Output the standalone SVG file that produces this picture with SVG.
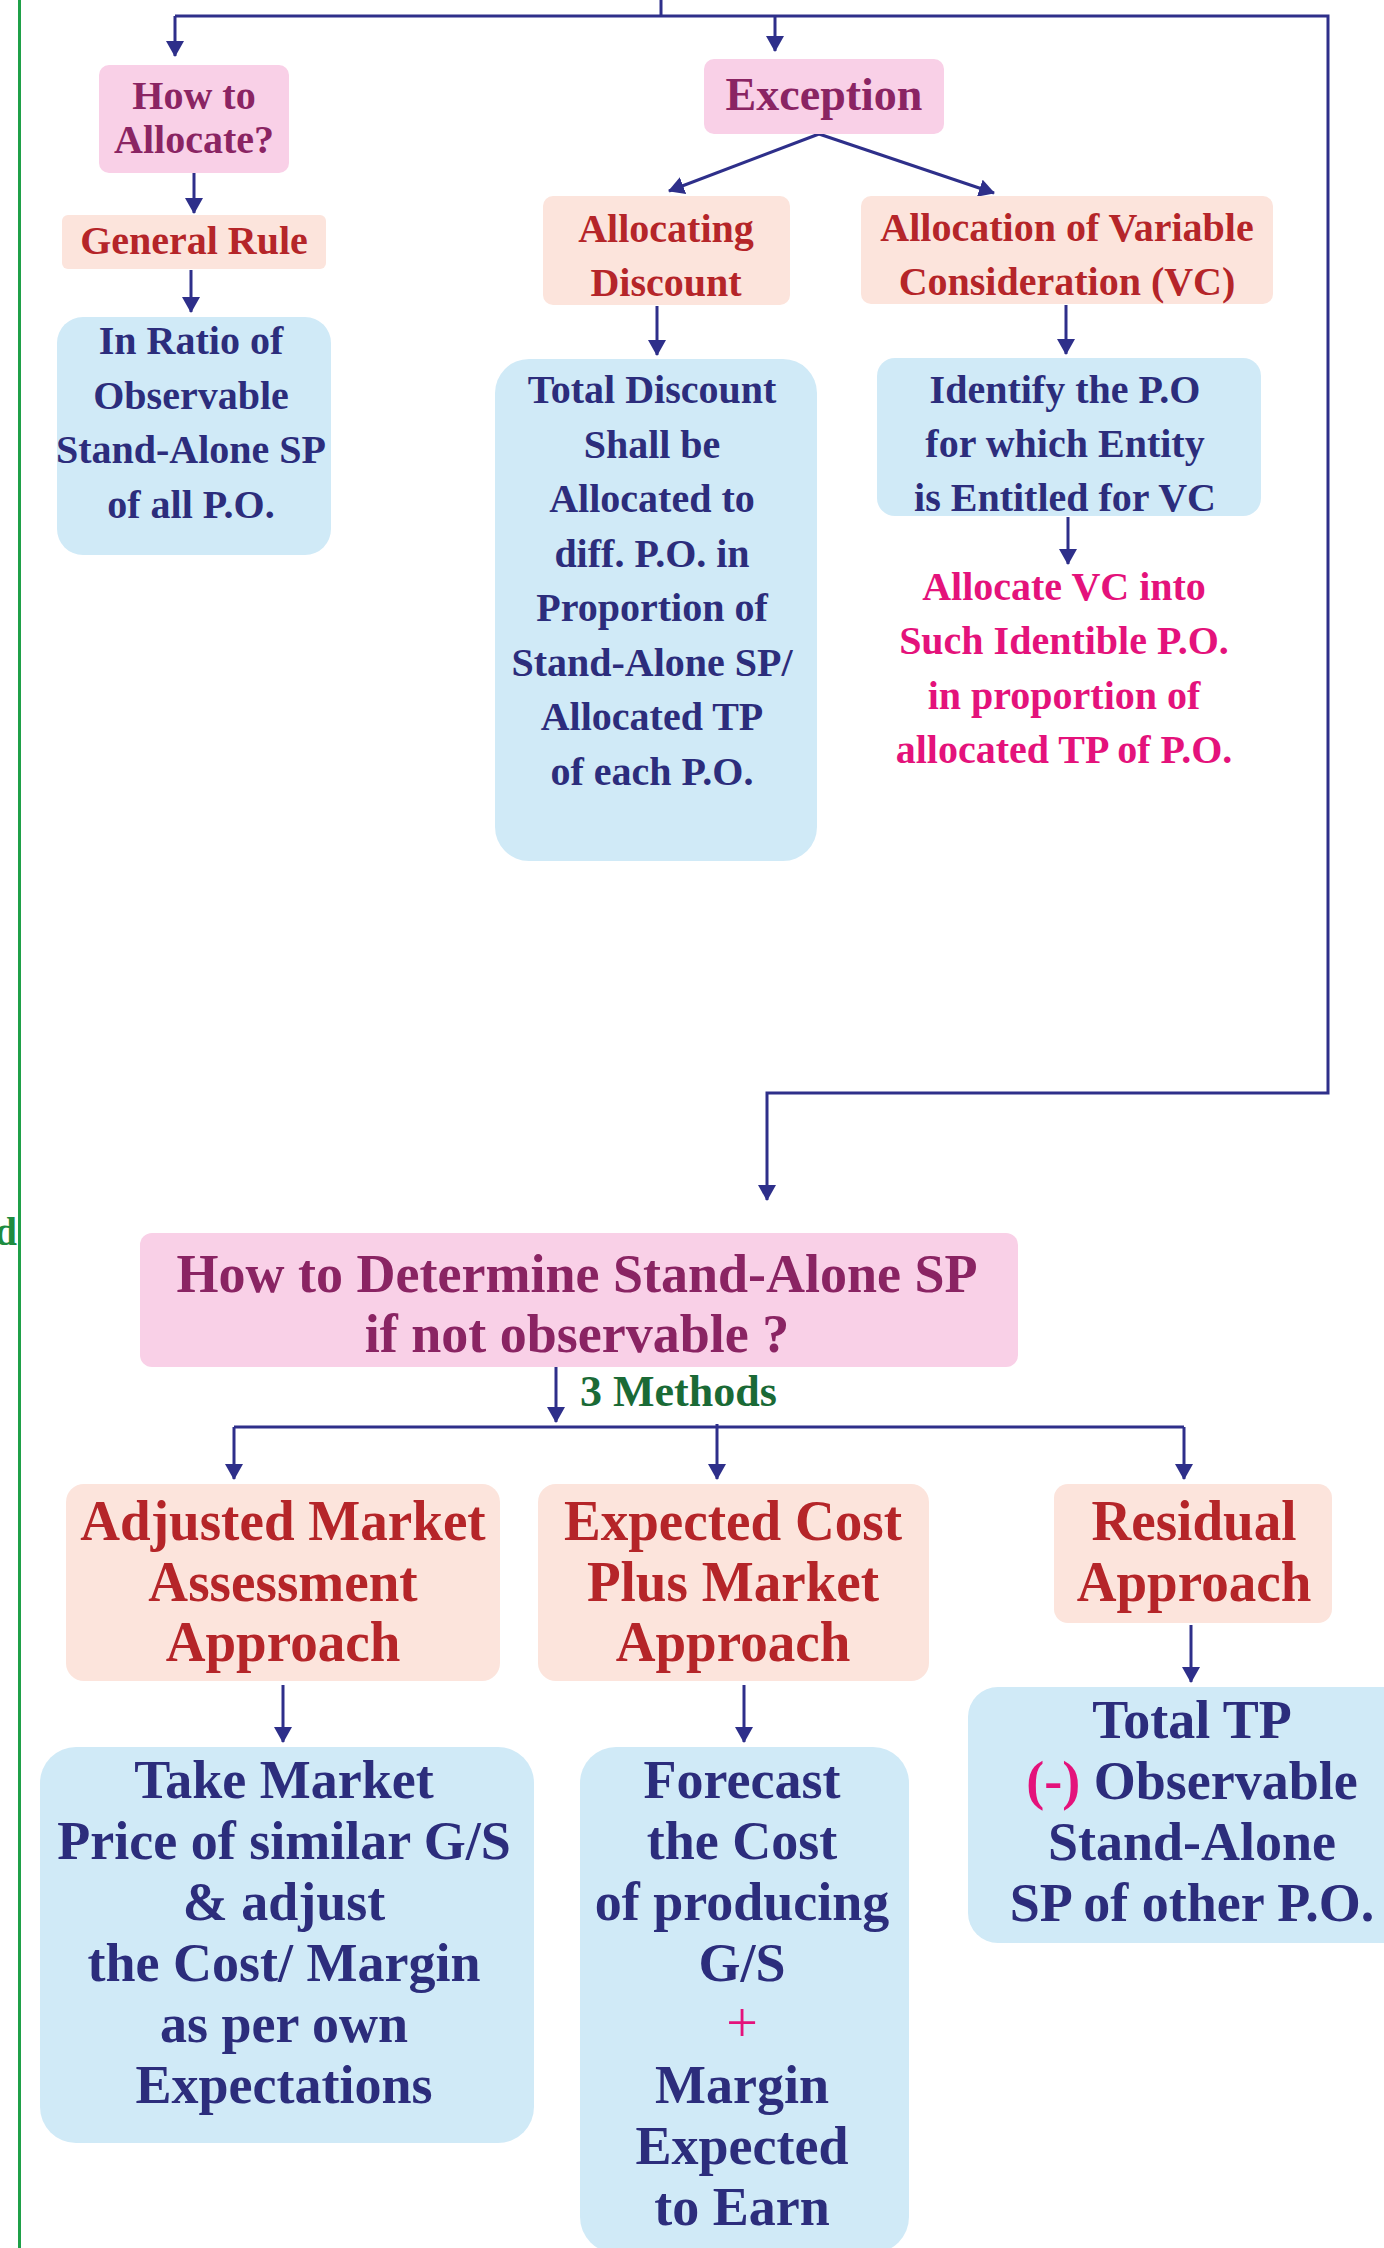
<svg xmlns="http://www.w3.org/2000/svg" width="1384" height="2248" viewBox="0 0 1384 2248">
<defs>
<style>
text{font-family:"Liberation Serif","Times New Roman",serif;font-weight:bold;text-anchor:middle}
.pink{fill:#f9d0e7}
.salmon{fill:#fce4dc}
.blue{fill:#d0eaf7}
.tp{fill:#8a2463}
.tr{fill:#b52529}
.tn{fill:#2c2d7c}
.tm{fill:#e4127b}
.f40{font-size:40px}
.f54{font-size:54px}
.f58{font-size:58px}
.conn{fill:none;stroke:#2e2f8a;stroke-width:3}
</style>
<marker id="ah" markerUnits="userSpaceOnUse" viewBox="0 0 16 18" markerWidth="16" markerHeight="18" refX="15" refY="9" orient="auto">
<path d="M0,0 L16,9 L0,18 z" fill="#2e2f8a"/>
</marker>
</defs>
<rect width="1384" height="2248" fill="#ffffff"/>
<line x1="19.5" y1="0" x2="19.5" y2="2248" stroke="#1fa048" stroke-width="3"/>
<text x="17" y="1245" style="text-anchor:end;font-size:40px;fill:#1e8c40">d</text>

<g id="connectors">
<path class="conn" d="M661,0 V16"/>
<path class="conn" d="M175,16 H1328 V1093 H767 V1200" marker-end="url(#ah)"/>
<path class="conn" d="M175,16 V56" marker-end="url(#ah)"/>
<path class="conn" d="M775,16 V51" marker-end="url(#ah)"/>
<path class="conn" d="M194,173 V213" marker-end="url(#ah)"/>
<path class="conn" d="M191,270 V312" marker-end="url(#ah)"/>
<path class="conn" d="M819,134 L669,191" marker-end="url(#ah)"/>
<path class="conn" d="M819,134 L994,193" marker-end="url(#ah)"/>
<path class="conn" d="M657,306 V355" marker-end="url(#ah)"/>
<path class="conn" d="M1066,305 V354" marker-end="url(#ah)"/>
<path class="conn" d="M1068,517 V564" marker-end="url(#ah)"/>
<path class="conn" d="M556,1367 V1422" marker-end="url(#ah)"/>
<path class="conn" d="M234,1427 H1184"/>
<path class="conn" d="M234,1427 V1479" marker-end="url(#ah)"/>
<path class="conn" d="M717,1424 V1479" marker-end="url(#ah)"/>
<path class="conn" d="M1184,1427 V1479" marker-end="url(#ah)"/>
<path class="conn" d="M283,1685 V1742" marker-end="url(#ah)"/>
<path class="conn" d="M744,1685 V1742" marker-end="url(#ah)"/>
<path class="conn" d="M1191,1625 V1682" marker-end="url(#ah)"/>
</g>

<g id="how-to-allocate">
<rect class="pink" x="99" y="65" width="190" height="108" rx="10"/>
<text class="tp f40" x="194" y="109">How to</text>
<text class="tp f40" x="194" y="153">Allocate?</text>
</g>

<g id="exception">
<rect class="pink" x="704" y="59" width="240" height="75" rx="10"/>
<text class="tp" x="824" y="110" style="font-size:46px">Exception</text>
</g>

<g id="general-rule">
<rect class="salmon" x="62" y="215" width="264" height="54" rx="6"/>
<text class="tr f40" x="194" y="254">General Rule</text>
</g>

<g id="in-ratio">
<rect class="blue" x="57" y="317" width="274" height="238" rx="26"/>
<text class="tn f40" x="191" y="354">In Ratio of</text>
<text class="tn f40" x="191" y="409">Observable</text>
<text class="tn f40" x="191" y="463">Stand-Alone SP</text>
<text class="tn f40" x="191" y="518">of all P.O.</text>
</g>

<g id="allocating-discount">
<rect class="salmon" x="543" y="196" width="247" height="109" rx="10"/>
<text class="tr f40" x="666" y="242">Allocating</text>
<text class="tr f40" x="666" y="296">Discount</text>
</g>

<g id="allocation-vc">
<rect class="salmon" x="861" y="196" width="412" height="108" rx="10"/>
<text class="tr f40" x="1067" y="241">Allocation of Variable</text>
<text class="tr f40" x="1067" y="295">Consideration (VC)</text>
</g>

<g id="total-discount">
<rect class="blue" x="495" y="359" width="322" height="502" rx="34"/>
<text class="tn f40" x="652" y="403">Total Discount</text>
<text class="tn f40" x="652" y="458">Shall be</text>
<text class="tn f40" x="652" y="512">Allocated to</text>
<text class="tn f40" x="652" y="567">diff. P.O. in</text>
<text class="tn f40" x="652" y="621">Proportion of</text>
<text class="tn f40" x="652" y="676">Stand-Alone SP/</text>
<text class="tn f40" x="652" y="730">Allocated TP</text>
<text class="tn f40" x="652" y="785">of each P.O.</text>
</g>

<g id="identify">
<rect class="blue" x="877" y="358" width="384" height="158" rx="18"/>
<text class="tn f40" x="1065" y="403">Identify the P.O</text>
<text class="tn f40" x="1065" y="457">for which Entity</text>
<text class="tn f40" x="1065" y="511">is Entitled for VC</text>
</g>

<g id="allocate-vc">
<text class="tm f40" x="1064" y="600">Allocate VC into</text>
<text class="tm f40" x="1064" y="654">Such Identible P.O.</text>
<text class="tm f40" x="1064" y="709">in proportion of</text>
<text class="tm f40" x="1064" y="763">allocated TP of P.O.</text>
</g>

<g id="determine">
<rect class="pink" x="140" y="1233" width="878" height="134" rx="12"/>
<text class="tp f54" x="577" y="1292">How to Determine Stand-Alone SP</text>
<text class="tp f54" x="577" y="1352">if not observable ?</text>
</g>

<g id="three-methods">
<text x="580" y="1406" style="text-anchor:start;font-size:44px;fill:#1a6a36">3 Methods</text>
</g>

<g id="adjusted-market">
<rect class="salmon" x="66" y="1484" width="434" height="197" rx="18"/>
<g transform="translate(283 0) scale(0.95 1)">
<text class="tr f58" x="0" y="1540">Adjusted Market</text>
<text class="tr f58" x="0" y="1601">Assessment</text>
<text class="tr f58" x="0" y="1661">Approach</text>
</g>
</g>

<g id="expected-cost">
<rect class="salmon" x="538" y="1484" width="391" height="197" rx="18"/>
<g transform="translate(733 0) scale(0.95 1)">
<text class="tr f58" x="0" y="1540">Expected Cost</text>
<text class="tr f58" x="0" y="1601">Plus Market</text>
<text class="tr f58" x="0" y="1661">Approach</text>
</g>
</g>

<g id="residual">
<rect class="salmon" x="1054" y="1484" width="278" height="139" rx="14"/>
<g transform="translate(1194 0) scale(0.95 1)">
<text class="tr f58" x="0" y="1540">Residual</text>
<text class="tr f58" x="0" y="1601">Approach</text>
</g>
</g>

<g id="take-market">
<rect class="blue" x="40" y="1747" width="494" height="396" rx="36"/>
<text class="tn f54" x="284" y="1798">Take Market</text>
<text class="tn f54" x="284" y="1859">Price of similar G/S</text>
<text class="tn f54" x="284" y="1920">&amp; adjust</text>
<text class="tn f54" x="284" y="1981">the Cost/ Margin</text>
<text class="tn f54" x="284" y="2042">as per own</text>
<text class="tn f54" x="284" y="2103">Expectations</text>
</g>

<g id="forecast">
<rect class="blue" x="580" y="1747" width="329" height="506" rx="36"/>
<text class="tn f54" x="742" y="1798">Forecast</text>
<text class="tn f54" x="742" y="1859">the Cost</text>
<text class="tn f54" x="742" y="1920">of producing</text>
<text class="tn f54" x="742" y="1981">G/S</text>
<text class="tm" x="742" y="2042" style="font-size:56px;font-weight:normal">+</text>
<text class="tn f54" x="742" y="2103">Margin</text>
<text class="tn f54" x="742" y="2164">Expected</text>
<text class="tn f54" x="742" y="2225">to Earn</text>
</g>

<g id="total-tp">
<rect class="blue" x="968" y="1687" width="450" height="256" rx="30"/>
<text class="tn f54" x="1192" y="1738">Total TP</text>
<text class="tn f54" x="1192" y="1799"><tspan class="tm">(-)</tspan> Observable</text>
<text class="tn f54" x="1192" y="1860">Stand-Alone</text>
<text class="tn f54" x="1192" y="1921">SP of other P.O.</text>
</g>
</svg>
